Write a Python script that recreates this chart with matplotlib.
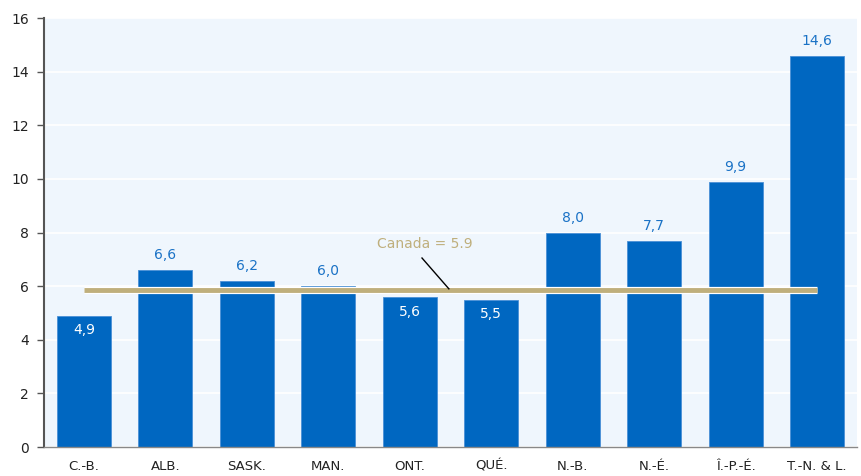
import matplotlib
matplotlib.use("Agg")
import matplotlib.pyplot as plt

categories = ["C.-B.", "ALB.", "SASK.", "MAN.", "ONT.", "QUÉ.", "N.-B.", "N.-É.", "Î.-P.-É.", "T.-N. & L."]
values = [4.9, 6.6, 6.2, 6.0, 5.6, 5.5, 8.0, 7.7, 9.9, 14.6]
labels = ["4,9", "6,6", "6,2", "6,0", "5,6", "5,5", "8,0", "7,7", "9,9", "14,6"]
canada = 5.85
canada_label = "Canada = 5.9"
yticks = [0, 2, 4, 6, 8, 10, 12, 14, 16]

bar_color = "#0067C1"
line_color = "#BFAF7C"
label_blue = "#1A72C6"

fig = plt.figure(figsize=(8.61, 4.76), dpi=100)
ax = fig.add_axes([0.0511, 0.0609, 0.9443, 0.9011])
ax.set_facecolor("#EFF6FD")

x = list(range(len(categories)))
ax.bar(x, values, width=0.66, color=bar_color, edgecolor="#4A90D6", linewidth=0.6, zorder=2)

ax.set_xlim(-0.49, 9.49)
ax.set_ylim(0, 16)
ax.set_yticks(yticks)
ax.set_yticklabels([str(t) for t in yticks], fontsize=10, color="#222222")
ax.set_xticks(x)
ax.set_xticklabels(categories, fontsize=9.5, color="#222222")
ax.tick_params(axis="x", length=0, pad=9)
ax.tick_params(axis="y", length=5, width=1, color="#555555", pad=6)
ax.yaxis.grid(True, color="white", linewidth=1.2, zorder=1)
ax.set_axisbelow(True)
for s in ["top", "right"]:
    ax.spines[s].set_visible(False)
ax.spines["left"].set_color("#555555")
ax.spines["left"].set_linewidth(1.5)
ax.spines["bottom"].set_color("#888888")
ax.spines["bottom"].set_linewidth(1.0)

# Canada average line
ax.plot([x[0], x[-1]], [canada, canada], color="white", linewidth=5.2, solid_capstyle="butt", zorder=3)
ax.plot([x[0], x[-1]], [canada, canada], color=line_color, linewidth=3.5, solid_capstyle="butt", zorder=4)
ax.text(4.18, 7.57, canada_label, color=line_color, fontsize=10, ha="center", va="center", zorder=5)
ax.plot([4.15, 4.48], [7.05, canada + 0.05], color="black", linewidth=1.0, zorder=5)

for xi, v, lab in zip(x, values, labels):
    if v < canada:
        ax.text(xi, v - 0.55, lab, color="white", ha="center", va="center", fontsize=10, zorder=5)
    else:
        ax.text(xi, v + 0.55, lab, color=label_blue, ha="center", va="center", fontsize=10, zorder=5)

fig.savefig("out.png", dpi=100)
